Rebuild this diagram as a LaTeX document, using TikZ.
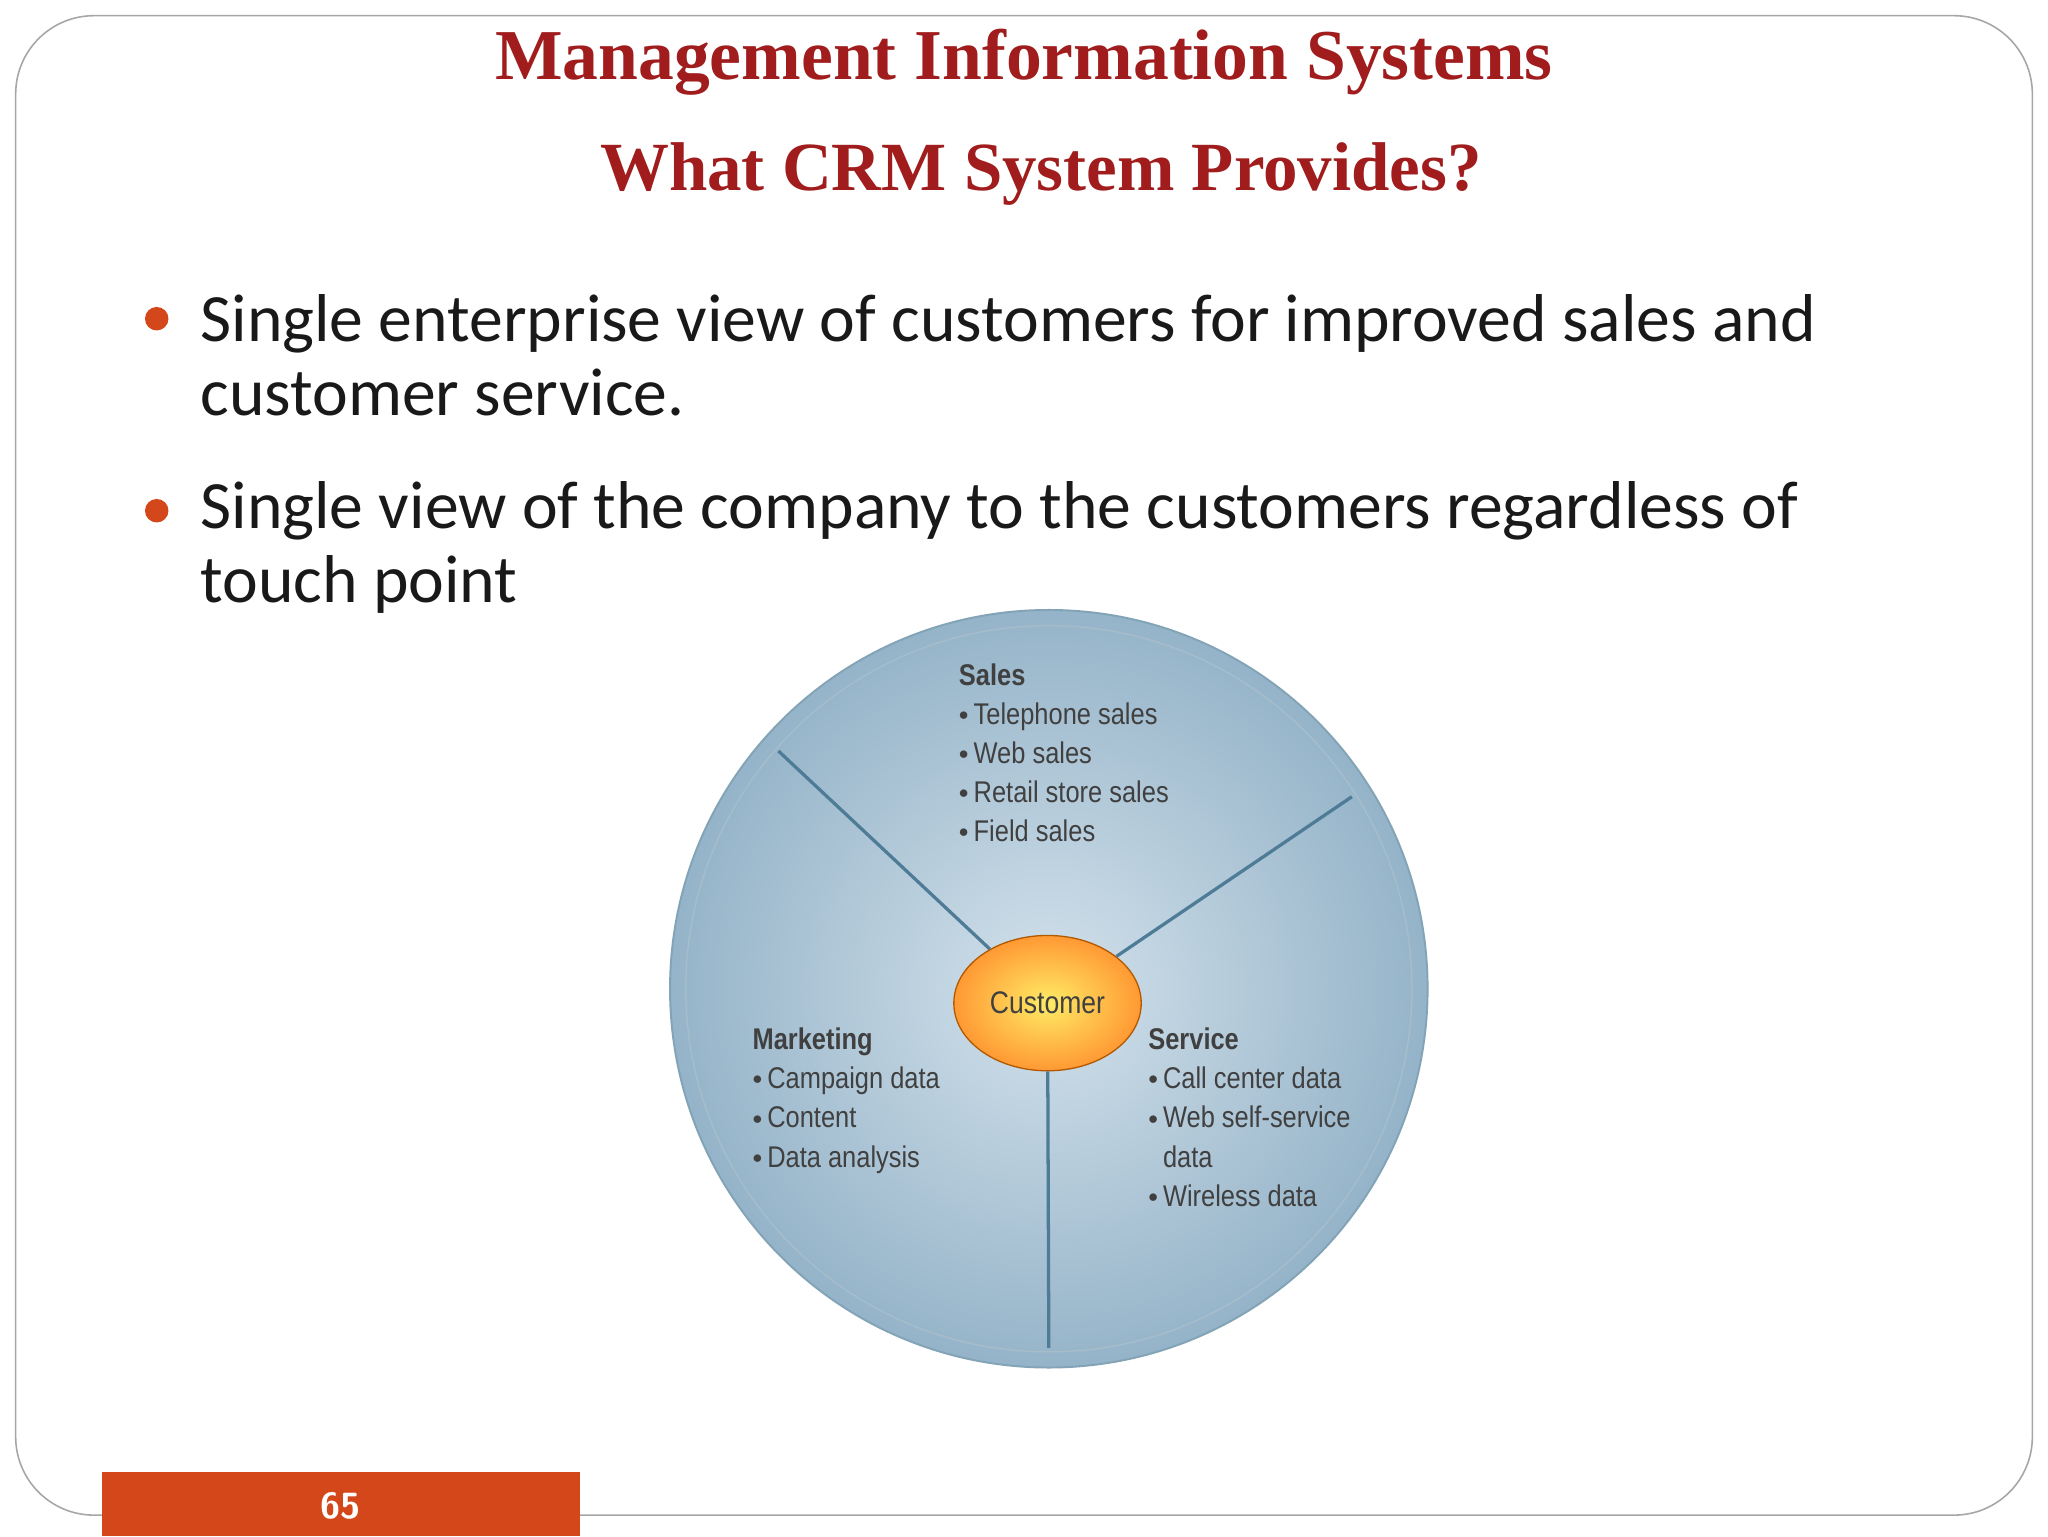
\documentclass[tikz,border=0pt]{standalone}
\usepackage{fontspec}
\setmainfont{Liberation Serif}
\newfontfamily\bodyf{Carlito}
\newfontfamily\diagf{Liberation Sans}[FakeStretch=0.85]
\usetikzlibrary{shapes.geometric}
\definecolor{titred}{HTML}{A11C1C}
\definecolor{orng}{HTML}{D4471A}
\definecolor{cblue}{HTML}{9DBDD3}
\definecolor{cdark}{HTML}{4E7C96}
\tikzset{
 bul/.style={anchor=west,font=\bodyf\fontsize{52}{57}\selectfont,text=black!90,align=left},
 dtext/.style={anchor=north west,font=\diagf\fontsize{23}{28}\selectfont,text=black!75,align=left,inner sep=0pt},
 spoke/.style={draw=cdark,line width=2.5bp},
}
\newcommand{\sdot}{\raisebox{0.25ex}{\scalebox{0.6}{$\bullet$}}\,}
\begin{document}
\begin{tikzpicture}[x=1bp,y=-1bp]
\useasboundingbox (0,0) rectangle (1568,1176);
\fill[white] (0,0) rectangle (1568,1176);
\draw[gray!70,line width=1.2bp,rounded corners=60bp] (12,12) rectangle (1556,1160);
\node[font=\bfseries\fontsize{55}{60}\selectfont,text=titred] (t1) at (784,48) {Management Information Systems};
\node[font=\bfseries\fontsize{53}{60}\selectfont,text=titred] (t2) at (797,133) {What CRM System Provides?};
\fill[orng] (120,244) circle (9);
\fill[orng] (120,391) circle (9);
\node[bul] (b1) at (150,272) {Single enterprise view of customers for improved sales and\\customer service.};
\node[bul] (b2) at (150,419) {Single view of the company to the customers regardless of\\touch point};
% circle
\shade[inner color=cblue!45,outer color=cblue!95!black] (803,757) circle (290);
\draw[cdark!70,line width=1.5bp] (803,757) circle (290);
\draw[cdark!50,line width=1bp] (803,757) circle (278);
\coordinate (p1) at (596,575);
\coordinate (p2) at (1035,610);
\coordinate (p3) at (803,1032);
\node[ellipse,minimum width=144,minimum height=104,inner color=orange!25!yellow!60,outer color=orange!80,draw=orange!70!black,line width=1bp,text=black!75,font=\diagf\fontsize{24}{28}\selectfont] (cu) at (802,768) {Customer};
\draw[spoke] (cu) -- (p1);
\draw[spoke] (cu) -- (p2);
\draw[spoke] (cu) -- (p3);
\node[dtext] (s) at (734,508) {\textbf{Sales}\\[2bp]\sdot Telephone sales\\[2bp]\sdot Web sales\\[2bp]\sdot Retail store sales\\[2bp]\sdot Field sales};
\node[dtext] (m) at (576,787) {\textbf{Marketing}\\[2bp]\sdot Campaign data\\[2bp]\sdot Content\\[2bp]\sdot Data analysis};
\node[dtext] (v) at (879,787) {\textbf{Service}\\[2bp]\sdot Call center data\\[2bp]\sdot Web self-service\\[2bp]\phantom{\sdot}data\\[2bp]\sdot Wireless data};
% footer
\fill[orng] (78,1127) rectangle (444,1176);
\node[font=\sffamily\bfseries\fontsize{28}{32}\selectfont,text=white] (pg) at (261,1153) {65};
\end{tikzpicture}
\end{document}
